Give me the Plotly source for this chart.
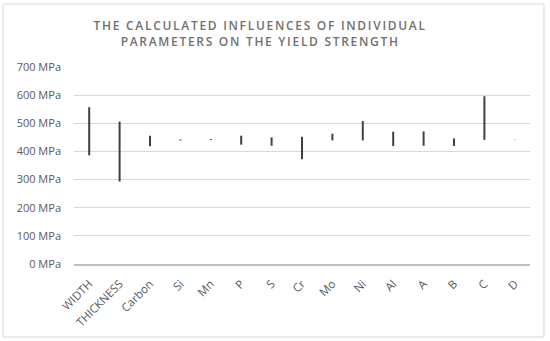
import plotly.graph_objects as go

categories = ["WIDTH", "THICKNESS", "Carbon", "Si", "Mn", "P", "S", "Cr", "Mo", "Ni", "Al", "A", "B", "C", "D"]
low_values = [386, 293, 418, 438.5, 440, 424, 420, 372, 439, 439, 419, 420, 419, 441, 440.5]
high_values = [557, 506, 456, 442.5, 443.5, 456, 450, 452, 463, 508, 470, 471, 446, 596, 441.5]
y_ticks = [0, 100, 200, 300, 400, 500, 600, 700]
y_tick_labels = [f"{v} MPa" for v in y_ticks]

xs, ys = [], []
for c, lo, hi in zip(categories, low_values, high_values):
    xs += [c, c, None]
    ys += [lo, hi, None]

fig = go.Figure()
fig.add_trace(go.Scatter(
    x=xs, y=ys, mode="lines",
    line=dict(color="#404040", width=2),
    connectgaps=False, hoverinfo="skip", showlegend=False,
))

font_family = "Open Sans, Liberation Sans, sans-serif"
fig.update_layout(
    width=550, height=341,
    margin=dict(l=74, r=20, t=67, b=77, autoexpand=False),
    paper_bgcolor="white", plot_bgcolor="white",
    title=dict(
        text='<span style="letter-spacing:1.7px">THE CALCULATED INFLUENCES OF INDIVIDUAL<br>PARAMETERS ON THE YIELD STRENGTH</span>',
        x=0.473, xanchor="center", y=0.912, yanchor="top",
        font=dict(family=font_family, size=12, color="#707070", weight=600),
    ),
    xaxis=dict(
        type="category", categoryorder="array", categoryarray=categories,
        tickmode="array", tickvals=categories, ticktext=categories,
        tickangle=-45, showgrid=False, ticks="", ticklabelstandoff=7,
        showline=True, linecolor="#bfbfbf", linewidth=1.5,
        tickfont=dict(family=font_family, size=11.5, color="#595959"),
        range=[-0.5, len(categories) - 0.5], fixedrange=True, automargin=False,
    ),
    yaxis=dict(
        range=[0, 700], tickmode="array", tickvals=y_ticks, ticktext=y_tick_labels,
        showgrid=True, gridcolor="#d9d9d9", gridwidth=1,
        zeroline=False, showline=False, ticks="", ticklabelstandoff=12,
        tickfont=dict(family=font_family, size=11, color="#595959"),
        fixedrange=True, automargin=False,
    ),
    shapes=[dict(
        type="rect", xref="paper", yref="paper",
        x0=-0.1557, x1=1.0307, y0=-0.3706, y1=1.3198,
        line=dict(color="#d9d9d9", width=1), fillcolor="rgba(0,0,0,0)", layer="below",
    )],
)

fig.write_html("out.html", config={"displayModeBar": False},
               post_script="document.body.style.margin='0';")
